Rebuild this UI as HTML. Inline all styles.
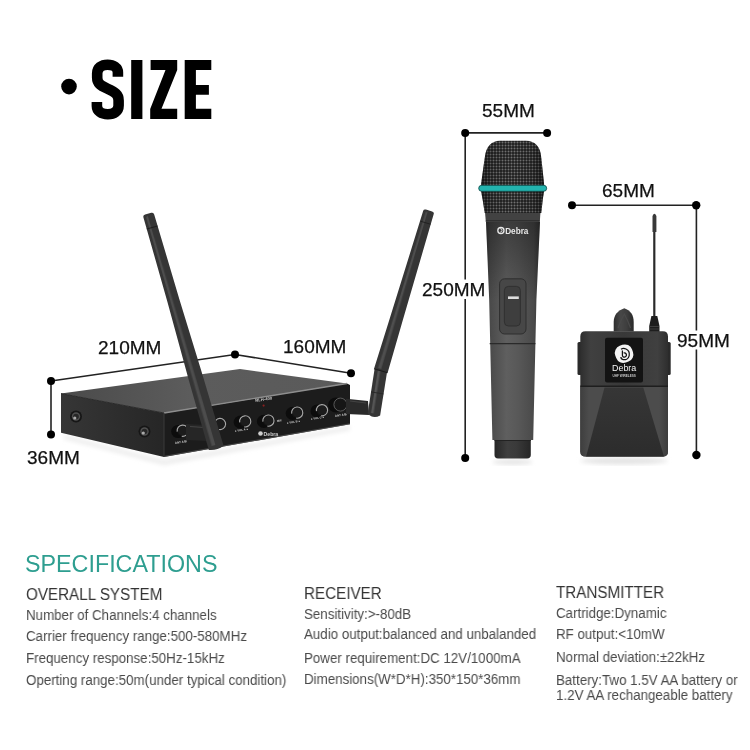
<!DOCTYPE html>
<html><head><meta charset="utf-8">
<style>
html,body{margin:0;padding:0;background:#fff;}
body{width:750px;height:750px;position:relative;overflow:hidden;font-family:"Liberation Sans",sans-serif;}
.t{position:absolute;white-space:nowrap;line-height:1;color:#3a3a3a;will-change:transform;}
.dim{font-size:19px;color:#111;-webkit-text-stroke:0.25px #111;}
.h{font-size:16px;color:#333;transform:scaleX(0.95);transform-origin:0 0;}
.r{font-size:14px;color:#4a4a4a;transform:scaleX(0.953);transform-origin:0 0;}
#spec{font-size:23.3px;color:#2e9e90;}
svg{position:absolute;left:0;top:0;will-change:transform;}
</style></head>
<body>
<svg width="750" height="750" viewBox="0 0 750 750">
<defs>
 <linearGradient id="gTop" x1="0" y1="0" x2="1" y2="0">
  <stop offset="0" stop-color="#4a4a4a"/><stop offset="0.45" stop-color="#5c5c5c"/><stop offset="1" stop-color="#5a5a5a"/>
 </linearGradient>
 <linearGradient id="gMic" x1="0" y1="0" x2="1" y2="0">
  <stop offset="0" stop-color="#363636"/><stop offset="0.08" stop-color="#4a4a4a"/><stop offset="0.38" stop-color="#5f5f5f"/><stop offset="0.6" stop-color="#585858"/><stop offset="0.88" stop-color="#4a4a4a"/><stop offset="1" stop-color="#353535"/>
 </linearGradient>
 <linearGradient id="gAnt" x1="0" y1="0" x2="1" y2="0">
  <stop offset="0" stop-color="#2a2a2a"/><stop offset="0.45" stop-color="#4a4a4a"/><stop offset="1" stop-color="#2a2a2a"/>
 </linearGradient>
 <pattern id="mesh" width="3" height="3" patternUnits="userSpaceOnUse">
  <rect width="3" height="3" fill="#1e1e1e"/><circle cx="1.5" cy="1.5" r="1" fill="#727272"/>
 </pattern>
 <linearGradient id="gTx" x1="0" y1="0" x2="1" y2="0">
  <stop offset="0" stop-color="#2e2e2e"/><stop offset="0.12" stop-color="#404040"/><stop offset="0.5" stop-color="#383838"/><stop offset="0.88" stop-color="#404040"/><stop offset="1" stop-color="#2e2e2e"/>
 </linearGradient>
 <linearGradient id="gSide" x1="0" y1="0" x2="1" y2="0">
  <stop offset="0" stop-color="#363636"/><stop offset="1" stop-color="#262626"/>
 </linearGradient>
 <linearGradient id="gClip" x1="0" y1="0" x2="1" y2="0">
  <stop offset="0" stop-color="#2e2e2e"/><stop offset="0.35" stop-color="#474747"/><stop offset="0.65" stop-color="#3e3e3e"/><stop offset="1" stop-color="#2a2a2a"/>
 </linearGradient>
 <linearGradient id="gTxL" x1="0" y1="0" x2="1" y2="0">
  <stop offset="0" stop-color="#3e3e3e"/><stop offset="0.1" stop-color="#4c4c4c"/><stop offset="0.9" stop-color="#4c4c4c"/><stop offset="1" stop-color="#3c3c3c"/>
 </linearGradient>
 <linearGradient id="gTxC" x1="0" y1="0" x2="0" y2="1">
  <stop offset="0" stop-color="#363636"/><stop offset="1" stop-color="#2c2c2c"/>
 </linearGradient>
 <linearGradient id="gMicTop" x1="0" y1="0" x2="0" y2="1">
  <stop offset="0" stop-color="#000" stop-opacity="0.35"/><stop offset="0.5" stop-color="#000" stop-opacity="0.18"/><stop offset="1" stop-color="#000" stop-opacity="0"/>
 </linearGradient>
 <linearGradient id="gCap" x1="0" y1="0" x2="1" y2="0">
  <stop offset="0" stop-color="#262626"/><stop offset="0.35" stop-color="#3e3e3e"/><stop offset="0.6" stop-color="#3a3a3a"/><stop offset="1" stop-color="#262626"/>
 </linearGradient>
 <linearGradient id="gGrille" x1="0" y1="0" x2="1" y2="0">
  <stop offset="0" stop-color="#000" stop-opacity="0.45"/><stop offset="0.2" stop-color="#000" stop-opacity="0.1"/><stop offset="0.5" stop-color="#000" stop-opacity="0"/><stop offset="0.8" stop-color="#000" stop-opacity="0.1"/><stop offset="1" stop-color="#000" stop-opacity="0.45"/>
 </linearGradient>
 <filter id="blur2"><feGaussianBlur stdDeviation="2"/></filter>
 <filter id="blur1"><feGaussianBlur stdDeviation="0.6"/></filter>
</defs>

<!-- title -->
<circle cx="69" cy="86.6" r="7.8" fill="#000"/>
<path d="M117.9,76.7 L117.9,72.5 C117.9,67.5 113.5,64.8 107.6,64.8 C101.5,64.8 97.2,67.8 97.2,73.5 L97.2,77.5 C97.2,83.5 100.5,85.5 107.6,88.8 C115,92.3 118.6,94.2 118.6,100.5 L118.6,105.5 C118.6,111.2 114,114.2 107.8,114.2 C101.5,114.2 96.9,111.2 96.9,106 L96.9,102.1" fill="none" stroke="#000" stroke-width="10.6"/>
<rect x="131.2" y="60" width="11.2" height="59" fill="#000"/>
<path d="M150.6,60 L177.2,60 L177.2,70 L161.5,108.7 L177.2,108.7 L177.2,119 L150.2,119 L150.2,109 L165.5,70 L150.6,70 Z" fill="#000"/>
<path d="M184.7,60 L211.3,60 L211.3,70 L195.9,70 L195.9,84.9 L208.9,84.9 L208.9,94.7 L195.9,94.7 L195.9,108.7 L211.3,108.7 L211.3,119 L184.7,119 Z" fill="#000"/>

<!-- receiver dims -->
<g stroke="#222" stroke-width="1.6" fill="none">
 <path d="M51,381 L235,354.5 L351,373.2"/>
 <path d="M51,381 L51,434.4"/>
</g>
<g fill="#000">
 <circle cx="51" cy="381" r="4"/><circle cx="51" cy="434.4" r="4"/>
 <circle cx="235" cy="354.5" r="4"/><circle cx="351" cy="373.2" r="4"/>
</g>

<!-- receiver shadow -->
<path d="M64,435 L164,460 L350,426 L350,430 L164,465 L64,439 Z" fill="#ececec" filter="url(#blur2)"/>
<!-- receiver box -->
<path d="M61,393.6 L240,369 L347,383.5 L164,413 Z" fill="url(#gTop)"/>
<path d="M61,393.6 L164,413 L164,457 L61,432.8 Z" fill="url(#gSide)"/>
<path d="M164,413 L347,383.5 L350,385 L350,424.3 L164,457 Z" fill="#1c1c1c"/>
<path d="M61,393.6 L164,413" fill="none" stroke="#2a2a2a" stroke-width="1"/>
<path d="M164,413 L347,383.5" fill="none" stroke="#8e8e8e" stroke-width="1.3"/>
<path d="M164,456.4 L350,423.8" fill="none" stroke="#555" stroke-width="0.8"/>
<path d="M164,413 L164,457" stroke="#3a3a3a" stroke-width="1"/>
<!-- screws -->
<g>
 <circle cx="76" cy="416.5" r="6" fill="#161616"/>
 <circle cx="76" cy="416.5" r="4.2" fill="#505050"/>
 <circle cx="76" cy="416.5" r="2.8" fill="#262626"/>
 <circle cx="74.8" cy="418" r="1.6" fill="#aaa"/>
 <circle cx="144.5" cy="431.5" r="6" fill="#161616"/>
 <circle cx="144.5" cy="431.5" r="4.2" fill="#505050"/>
 <circle cx="144.5" cy="431.5" r="2.8" fill="#262626"/>
 <circle cx="143.3" cy="433" r="1.6" fill="#aaa"/>
</g>
<!-- knobs -->
<defs>
 <g id="knob">
  <ellipse cx="-4.5" cy="0.8" rx="7" ry="6.6" fill="#0c0c0c"/>
  <circle r="5.6" fill="#141414"/>
  <circle r="4.6" fill="#1c1c1c"/>
  <path d="M-5.51,0.97 A5.6,5.6 0 1 1 -0.97,5.51" stroke="#a8a8a8" stroke-width="1.15" fill="none"/>
 </g>
</defs>
<use href="#knob" x="182.7" y="430.7"/>
<use href="#knob" x="220" y="424"/>
<use href="#knob" x="245.2" y="421.4"/>
<use href="#knob" x="268.4" y="420.6"/>
<use href="#knob" x="297.2" y="412.6"/>
<use href="#knob" x="322" y="410.2"/>
<ellipse cx="336" cy="405" rx="8" ry="7.5" fill="#0c0c0c"/>
<circle cx="340.4" cy="404.6" r="6.5" fill="#161616" stroke="#5a5a5a" stroke-width="1"/>
<g fill="#cfcfcf" font-family="Liberation Sans" font-weight="bold">
 <circle cx="260.5" cy="433.5" r="2.3"/>
 <text x="263.5" y="435.6" font-size="5.2">Debra</text>
 <text x="255.5" y="402" font-size="4.2" transform="rotate(-9 255.5 402)">RLH-400</text>
 <text x="175" y="444" font-size="3" transform="rotate(-9 175 444)">ANT A/B</text>
 <text x="335" y="417" font-size="3" transform="rotate(-9 335 417)">ANT A/B</text>
 <text x="235" y="432" font-size="2.8" transform="rotate(-9 235 432)">● VOL A ●</text>
 <text x="287" y="424" font-size="2.8" transform="rotate(-9 287 424)">● VOL B ●</text>
 <text x="311" y="420" font-size="2.8" transform="rotate(-9 311 420)">● VOL C ●</text>
 <text x="277" y="422" font-size="2.8" transform="rotate(-9 277 422)">MIX</text>
</g>
<circle cx="263.6" cy="405.6" r="1.1" fill="#8a2020"/>
<!-- right connector + antenna -->
<path d="M346,398.7 L368,401 L369,415 L346,414 Z" fill="#2a2a2a"/>
<path d="M350,401 L366,403" stroke="#444" stroke-width="1"/>
<g transform="translate(380.75,371) rotate(8.96)">
 <path d="M-6.4,-2 L6.4,-2 L6.3,44 Q0,49 -6.3,44 Z" fill="#353535"/>
 <path d="M-2.9,0 L-0.5,0 L-0.5,43 L-3.1,43 Z" fill="#555" filter="url(#blur1)"/>
 <path d="M-6.3,22.2 L6.3,22.2" stroke="#262626" stroke-width="0.8"/>
</g>
<g transform="translate(428.9,211) rotate(16.75)">
 <path d="M-5.5,1.5 Q-5.5,-0.5 -3.2,-0.5 L3.2,-0.5 Q5.5,-0.5 5.5,1.5 L6.5,114 L7.1,166.5 L-7.1,166.5 L-6.5,114 Z" fill="#353535"/>
 <path d="M-2.6,2 L-1.2,1 L-0.2,165 L-3.4,165 Z" fill="#505050" filter="url(#blur1)"/>
 <path d="M-7.1,166.8 L7.1,166.8" stroke="#1c1c1c" stroke-width="1"/>
 <path d="M-5.3,12.2 L5.3,12.2" stroke="#1e1e1e" stroke-width="0.8"/>
</g>
<!-- left connector + antenna -->
<path d="M186,424 L206,425 L208,441 L186,440 Z" fill="#262626"/>
<path d="M190,426.5 L204,427.5" stroke="#444" stroke-width="1"/>
<g transform="translate(148.4,214.5) rotate(-16.2)">
 <path d="M-5.6,1.5 Q-5.6,-0.8 -3.2,-0.8 L3.2,-0.8 Q5.6,-0.8 5.6,1.5 L6.1,90 L7.2,165 L7.7,243 Q0,246 -7.7,243 L-7.45,172 L-6.1,90 Z" fill="#353535"/>
 <path d="M-2.8,2 L-1,1 L0,240 L-3.6,240 Z" fill="#4e4e4e" filter="url(#blur1)"/>
 <path d="M-5.6,13.5 L5.6,13.5" stroke="#1e1e1e" stroke-width="1"/>
</g>

<!-- mic dims -->
<g stroke="#222" stroke-width="1.6" fill="none">
 <path d="M465.2,132.9 L547.1,132.9"/>
 <path d="M465.2,132.9 L465.2,279.5 M465.2,299 L465.2,458"/>
</g>
<g fill="#000">
 <circle cx="465.2" cy="132.9" r="4"/><circle cx="547.1" cy="132.9" r="4"/><circle cx="465.2" cy="458" r="4"/>
</g>
<!-- mic -->
<ellipse cx="512.5" cy="462" rx="20" ry="3" fill="#e6e6e6" filter="url(#blur2)"/>
<path d="M486,222 L540,222 L536.4,300 L533.2,440 L492.4,440 L489.2,300 Z" fill="url(#gMic)"/>
<path d="M486,222 L540,222 L538,262 L536.4,300 L489.2,300 L488,262 Z" fill="url(#gMicTop)"/>
<path d="M494.5,440 L530.8,440 L530.8,455 Q530.8,458.4 527,458.4 L498,458.4 Q494.5,458.4 494.5,455 Z" fill="url(#gCap)"/>
<path d="M494.5,440.5 L530.8,440.5" stroke="#222" stroke-width="1"/>
<path d="M489.7,343.6 L535.4,343.6" stroke="#2a2a2a" stroke-width="1.2"/>
<rect x="499.6" y="278.8" width="26.4" height="55.2" rx="5" fill="#474747" stroke="#2e2e2e" stroke-width="1"/>
<rect x="504.4" y="286.4" width="16" height="39.6" rx="4" fill="#3e3e3e" stroke="#2c2c2c" stroke-width="0.8"/>
<rect x="508" y="296.4" width="10.8" height="2.6" fill="#ddd"/>
<path d="M485,212 L540.5,212 L539.8,221.5 L485.8,221.5 Z" fill="#424242"/>
<path d="M485.8,221.2 L539.8,221.2" stroke="#1e1e1e" stroke-width="1.2"/>
<path d="M484.7,213 L482.7,200 L480.5,188 L484.7,158 Q486.5,141 500,140.7 L526,140.7 Q540,141 541.3,158 L544.5,188 L542.7,200 L541.3,213 Z" fill="url(#mesh)"/>
<path d="M484.7,213 L482.7,200 L480.5,188 L484.7,158 Q486.5,141 500,140.7 L526,140.7 Q540,141 541.3,158 L544.5,188 L542.7,200 L541.3,213 Z" fill="url(#gGrille)"/>
<rect x="478.7" y="185.3" width="68" height="6" rx="3" fill="#23b3ae" stroke="#0f4a48" stroke-width="0.8"/>
<circle cx="500.9" cy="230.6" r="3.1" fill="none" stroke="#e8e8e8" stroke-width="1.3"/><path d="M500.2,228.6 a1.6,1.6 0 1 1 0,3.6" fill="none" stroke="#e8e8e8" stroke-width="0.9"/>
<text x="505.2" y="233.6" font-size="8.2" fill="#e8e8e8" font-family="Liberation Sans" font-weight="bold">Debra</text>

<!-- transmitter dims -->
<g stroke="#222" stroke-width="1.6" fill="none">
 <path d="M572,205.3 L696.2,205.3"/>
 <path d="M696.4,205.3 L696.4,330.4 M696.4,349.5 L696.4,455"/>
</g>
<g fill="#000">
 <circle cx="572" cy="205.3" r="4"/><circle cx="696.2" cy="205.3" r="4.2"/><circle cx="696.4" cy="455" r="4.2"/>
</g>
<!-- transmitter -->
<ellipse cx="624" cy="461" rx="44" ry="3.5" fill="#e4e4e4" filter="url(#blur2)"/>
<path d="M654.3,318 L654.3,222" stroke="#2a2a2a" stroke-width="2.2"/>
<path d="M652.5,232 L652.5,216 Q654.4,211.5 656.4,216 L656.4,232 Z" fill="#383838"/>
<path d="M651.4,316 L657.3,316 L659.5,326 L659.5,332 L649.2,332 L649.2,326 Z" fill="#1e1e1e"/>
<path d="M650,326.5 L658.8,326.5 M650,329 L658.8,329" stroke="#555" stroke-width="0.6"/>
<path d="M613.7,331.5 L613.7,322 C613.7,315 618,310.5 624.3,308.3 C630.5,310.5 633.7,315 633.7,322 L633.7,331.5 Z" fill="url(#gClip)"/>
<path d="M618,328 C620,322 622,318 624.3,314 C626.5,318 628.5,322 630.5,328" fill="none" stroke="#4a4a4a" stroke-width="1.2"/>
<rect x="577.5" y="342" width="5" height="33" rx="1.5" fill="#2a2a2a"/>
<rect x="665.7" y="342" width="5" height="33" rx="1.5" fill="#2a2a2a"/>
<path d="M580.3,336.5 Q580.3,331.3 585.5,331.3 L662.8,331.3 Q668,331.3 668,336.5 L668,451.3 Q668,456.5 662.8,456.5 L585.5,456.5 Q580.3,456.5 580.3,451.3 Z" fill="url(#gTx)"/>
<path d="M580.3,387 L668,387 L668,451.3 Q668,456.5 662.8,456.5 L585.5,456.5 Q580.3,456.5 580.3,451.3 Z" fill="url(#gTxL)"/>
<path d="M604.5,387.5 L643.3,387.5 L664,456.5 L586.1,456.5 Z" fill="url(#gTxC)"/>
<path d="M580.3,386.3 L668,386.3" stroke="#1e1e1e" stroke-width="1.4"/>
<rect x="605" y="337.8" width="38" height="44.8" rx="2" fill="#131313"/>
<rect x="615.2" y="344.8" width="17.8" height="17.8" rx="7.5" fill="#f4f4f4" transform="rotate(-20 624.1 353.7)"/>
<path d="M621,349.2 C622.5,348.2 624.5,348.3 626,349 C628.8,350.3 629.6,353.2 629.2,355.6 C628.6,358.6 625.8,360 623.2,359.6 C621.6,359.3 620.9,358.2 620.9,357" fill="none" stroke="#131313" stroke-width="1.25"/>
<path d="M622.4,350.6 L622.4,355.2 C622.4,356.5 623.4,357.3 624.6,357.1 C625.9,356.9 626.6,355.8 626.4,354.6 C626.1,353.3 624.8,352.6 623.6,353" fill="none" stroke="#131313" stroke-width="1.25"/>
<text x="624.2" y="370.9" font-size="8.9" fill="#f4f4f4" font-family="Liberation Sans" text-anchor="middle">Debra</text>
<text x="624.2" y="377.3" font-size="3.1" fill="#c4c4c4" font-family="Liberation Sans" text-anchor="middle" font-weight="bold">UHF WIRELESS</text>
</svg>
<div class="t dim" id="d210" style="left:98px;top:338px">210MM</div>
<div class="t dim" id="d160" style="left:283px;top:337px">160MM</div>
<div class="t dim" id="d36" style="left:27px;top:448px">36MM</div>
<div class="t dim" id="d55" style="left:482px;top:101px">55MM</div>
<div class="t dim" id="d250" style="left:422px;top:280px">250MM</div>
<div class="t dim" id="d65" style="left:602px;top:181px">65MM</div>
<div class="t dim" id="d95" style="left:677px;top:330.7px">95MM</div>

<div class="t" id="spec" style="left:25px;top:553px">SPECIFICATIONS</div>
<div class="t h" id="h1" style="left:26px;top:587px">OVERALL SYSTEM</div>
<div class="t h" id="h2" style="left:304px;top:586px">RECEIVER</div>
<div class="t h" id="h3" style="left:556px;top:585px">TRANSMITTER</div>

<div class="t r" id="a1" style="left:26px;top:608.3px">Number of Channels:4 channels</div>
<div class="t r" id="a2" style="left:26px;top:629.3px">Carrier frequency range:500-580MHz</div>
<div class="t r" id="a3" style="left:26px;top:651.3px">Frequency response:50Hz-15kHz</div>
<div class="t r" id="a4" style="left:26px;top:673.3px">Operting range:50m(under typical condition)</div>

<div class="t r" id="b1" style="left:304px;top:607.3px">Sensitivity:&gt;-80dB</div>
<div class="t r" id="b2" style="left:304px;top:627.3px">Audio output:balanced and unbalanded</div>
<div class="t r" id="b3" style="left:304px;top:651.3px">Power requirement:DC 12V/1000mA</div>
<div class="t r" id="b4" style="left:304px;top:672.3px">Dimensions(W*D*H):350*150*36mm</div>

<div class="t r" id="c1" style="left:556px;top:606.3px">Cartridge:Dynamic</div>
<div class="t r" id="c2" style="left:556px;top:627.3px">RF output:&lt;10mW</div>
<div class="t r" id="c3" style="left:556px;top:650.3px">Normal deviation:±22kHz</div>
<div class="t r" id="c4" style="left:556px;top:673.3px">Battery:Two 1.5V AA battery or</div>
<div class="t r" id="c5" style="left:556px;top:688.3px">1.2V AA rechangeable battery</div>
</body></html>
